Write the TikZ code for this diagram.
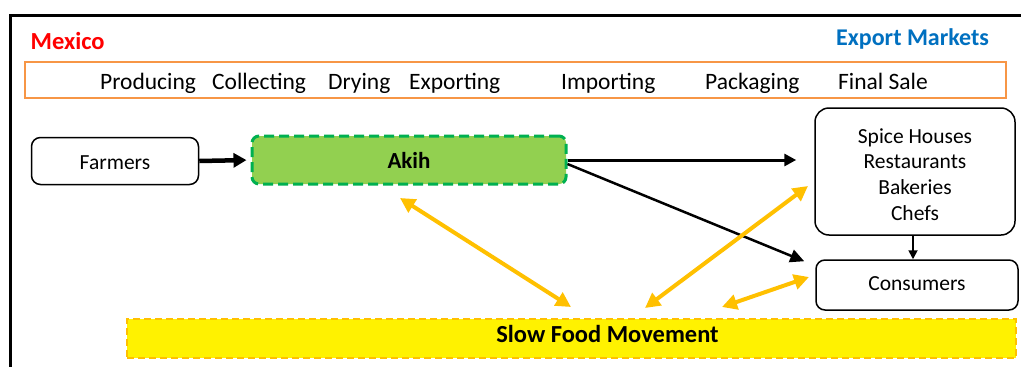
\documentclass[tikz,border=0pt]{standalone}
\usepackage{fontspec}
\setmainfont{Carlito}
\usetikzlibrary{arrows.meta,calc}
\definecolor{orangeb}{HTML}{F79646}
\definecolor{greenfill}{HTML}{92D050}
\definecolor{greenline}{HTML}{00B050}
\definecolor{gold}{HTML}{FFC000}
\definecolor{blueT}{HTML}{0070C0}
\definecolor{redT}{HTML}{FF0000}
\begin{document}
\begin{tikzpicture}[x=1pt,y=-1pt,
  stagetext/.style={inner sep=0pt,anchor=base west,font=\fontsize{23.5}{28}\selectfont},
  whitebox/.style={draw=black,line width=1.5pt,rounded corners=9pt,fill=white,align=center,
     font=\fontsize{21.5}{25.7}\selectfont,inner sep=0pt},
  blackarrow/.style={draw=black,-{Triangle[length=11pt,width=11pt]}},
  goldarrow/.style={draw=gold,line width=4pt,{Triangle[length=15pt,width=15pt]}-{Triangle[length=15pt,width=15pt]},shorten <=0pt,shorten >=0pt}
]
\useasboundingbox (0,0) rectangle (1021,367);
\fill[white] (0,0) rectangle (1021,367);
% outer frame
\draw[line width=3pt,line join=miter] (1021,15) -- (10,15) -- (10,367);
% titles
\node[inner sep=0pt,anchor=base west,text=redT,font=\bfseries\fontsize{24.5}{28}\selectfont] (mexico) at (30.5,49.5) {Mexico};
\node[inner sep=0pt,anchor=base west,text=blueT,font=\bfseries\fontsize{24}{28}\selectfont] (export) at (836,45.5) {Export Markets};
% stage bar
\node[draw=orangeb,line width=2pt,minimum width=981pt,minimum height=36pt,inner sep=0pt] (bar) at (515.5,80) {};
\node[stagetext] (s1) at (100,89) {Producing};
\node[stagetext] (s2) at (212,89) {Collecting};
\node[stagetext] (s3) at (328,89) {Drying};
\node[stagetext] (s4) at (409,89) {Exporting};
\node[stagetext] (s5) at (561,89) {Importing};
\node[stagetext] (s6) at (705,89) {Packaging};
\node[stagetext] (s7) at (838,89) {Final Sale};
% boxes
\node[whitebox,minimum width=167pt,minimum height=47pt] (farmers) at (115,161) {\raisebox{-1.5pt}[\height][\depth]{Farmers}};
\node[draw=greenline,fill=greenfill,line width=3pt,dash pattern=on 10pt off 5pt,rounded corners=7pt,
      minimum width=314pt,minimum height=48pt,inner sep=0pt,font=\bfseries\fontsize{23}{28}\selectfont] (akih) at (409,160) {Akih};
\node[whitebox,minimum width=200pt,minimum height=127pt,rounded corners=14pt] (spice) at (915,171.5)
  {\raisebox{-5pt}[\height][\depth]{\begin{tabular}{@{}c@{}}Spice Houses\\Restaurants\\Bakeries\\Chefs\end{tabular}}};
\node[whitebox,minimum width=202pt,minimum height=50pt] (consumers) at (917,285) {\raisebox{1.5pt}[\height][\depth]{Consumers}};
\node[draw=gold,fill=yellow,line width=2pt,dash pattern=on 7pt off 4pt,minimum width=889pt,minimum height=39pt,inner sep=0pt] (slow) at (571.5,338.5) {};
\node[inner sep=0pt,anchor=base,font=\bfseries\fontsize{24.5}{28}\selectfont] (slowtext) at (607.5,342.5) {Slow Food Movement};
% black arrows
\draw[blackarrow,line width=4.5pt,-{Triangle[length=13pt,width=14pt]},shorten >=4pt] (farmers.east) -- (akih.west);
\draw[blackarrow,line width=3pt,-{Triangle[length=12pt,width=12pt]},shorten >=18pt] (akih.east) -- (akih.east -| spice.west);
\coordinate (dstart) at ($(akih.east)+(0,4)$);
\coordinate (dend) at ($(consumers.north west)+(-11,2)$);
\draw[blackarrow,line width=2.5pt,-{Triangle[length=14pt,width=13pt]}] (dstart) -- (dend);
\draw[blackarrow,line width=1.8pt,-{Triangle[length=9pt,width=9pt]}] (spice.south -| 913,0) -- (consumers.north -| 913,0);
% gold arrows
\coordinate (g1a) at (400,198);
\coordinate (g1b) at (571,307);
\coordinate (g2a) at (645,308);
\coordinate (g2b) at (808,186);
\coordinate (g3a) at (722,307);
\coordinate (g3b) at (809,277);
\draw[goldarrow] (g1a) -- (g1b);
\draw[goldarrow] (g2a) -- (g2b);
\draw[goldarrow] (g3a) -- (g3b);
\end{tikzpicture}
\end{document}
